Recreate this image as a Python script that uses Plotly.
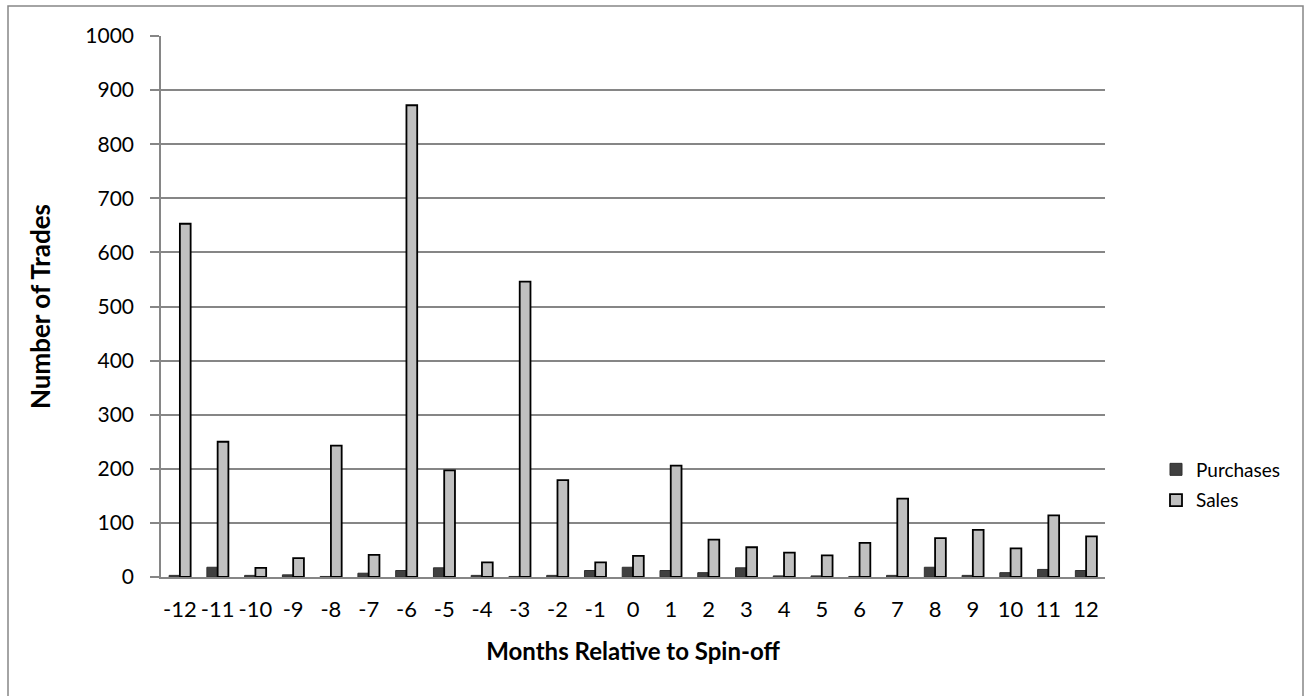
import plotly.graph_objects as go

# Monthly insider trades around the spin-off date
months = [str(m) for m in range(-12, 13)]
purchases = [3, 18, 3, 4, 1, 7, 12, 17, 3, 1, 3, 12, 18, 12, 8, 17, 2, 2, 1, 3, 18, 3, 8, 14, 12]
sales = [653, 250, 17, 35, 243, 41, 872, 197, 27, 546, 179, 27, 39, 206, 69, 55, 45, 40, 63, 145, 72, 87, 53, 114, 75]

FONT = "Lato"

fig = go.Figure()
fig.add_trace(go.Bar(
    x=months, y=purchases, name="Purchases", legendgroup="purchases",
    marker=dict(color="#404040", line=dict(color="#303030", width=1)),
))
fig.add_trace(go.Bar(
    x=months, y=sales, name="Sales", legendgroup="sales",
    marker=dict(color="#C0C0C0", line=dict(color="#000000", width=1.8)),
))

# outer frame around the whole chart area
fig.add_shape(type="rect", xref="paper", yref="paper",
              x0=(8 - 161) / 944, x1=(1303 - 161) / 944,
              y0=(577 - 702) / 541, y1=(577 - 6) / 541,
              line=dict(color="#868686", width=1.5), fillcolor="rgba(0,0,0,0)",
              layer="below")

fig.update_layout(
    width=1305, height=696,
    margin=dict(l=161, r=200, t=36, b=119, autoexpand=False),
    paper_bgcolor="white", plot_bgcolor="white",
    barmode="group", bargap=0.43, bargroupgap=0,
    font=dict(family=FONT, size=21, color="#000000"),
    showlegend=True,
    legend=dict(xref="container", yref="container",
                x=1156 / 1305, y=(696 - 485) / 696, xanchor="left", yanchor="middle",
                font=dict(family=FONT, size=19), bgcolor="rgba(0,0,0,0)",
                itemwidth=30, tracegroupgap=3),
    xaxis=dict(
        type="category", showgrid=False, showline=True,
        linecolor="#868686", linewidth=1.5, ticks="",
        tickfont=dict(family=FONT, size=22), ticklabelstandoff=12,
        title=dict(text="<b>Months Relative to Spin-off</b>",
                   font=dict(family=FONT, size=24), standoff=22),
    ),
    yaxis=dict(
        range=[0, 1000], dtick=100, showgrid=True,
        gridcolor="#868686", gridwidth=1.5,
        showline=True, linecolor="#868686", linewidth=1.5,
        ticks="outside", ticklen=9, tickcolor="#868686", tickwidth=1.5,
        tickfont=dict(family=FONT, size=21), zeroline=False,
        ticklabelstandoff=12,
        title=dict(text="<b>Number of Trades</b>",
                   font=dict(family=FONT, size=26), standoff=27),
    ),
)

fig.write_html("out.html")
